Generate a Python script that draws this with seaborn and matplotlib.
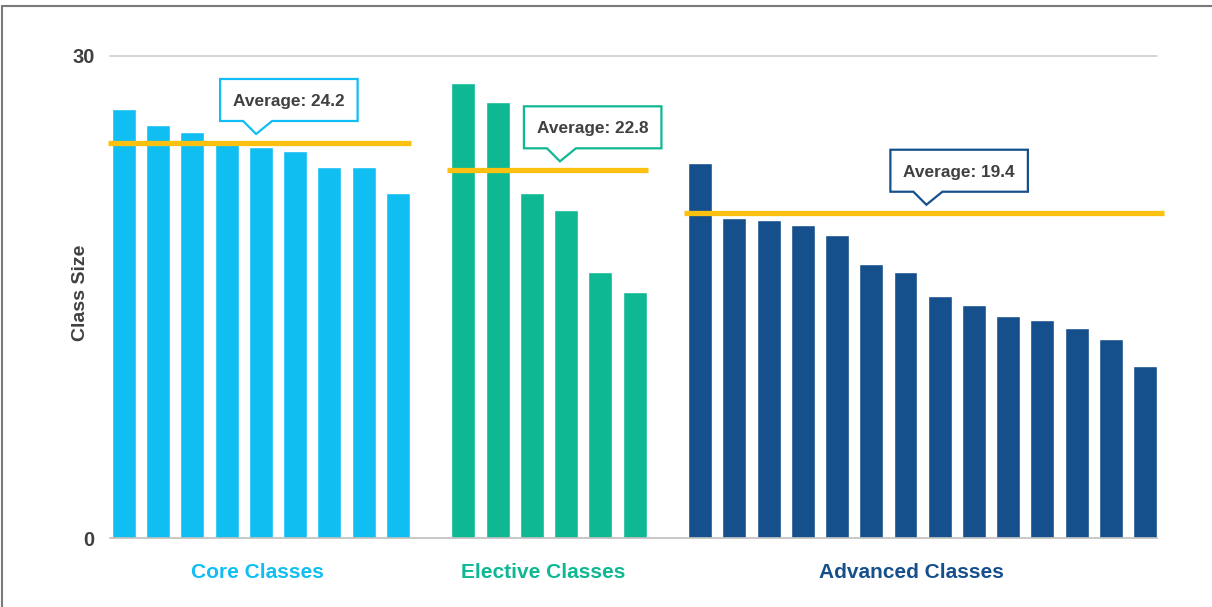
import numpy as np
import pandas as pd
import matplotlib
matplotlib.use("Agg")
import matplotlib.pyplot as plt
import matplotlib.transforms as mtransforms
from matplotlib.patches import Polygon
from matplotlib.lines import Line2D
import seaborn as sns

# ---------------- data ----------------
groups = ["Core Classes", "Elective Classes", "Advanced Classes"]
core_sizes = [26.7, 25.7, 25.25, 24.5, 24.3, 24.05, 23.1, 23.1, 21.45]
elective_sizes = [28.3, 27.1, 21.45, 20.4, 16.55, 15.3]
advanced_sizes = [23.3, 19.9, 19.8, 19.45, 18.85, 17.05, 16.55, 15.05,
                  14.5, 13.8, 13.55, 13.05, 12.4, 10.7]
avg_line_values = [24.6, 22.9, 20.2]
avg_labels = ["Average: 24.2", "Average: 22.8", "Average: 19.4"]
y_ticks = [0, 30]
y_label = "Class Size"

# ---------------- style ----------------
colors = {"Core Classes": "#10BEF2", "Elective Classes": "#0DB893",
          "Advanced Classes": "#15508C"}
avg_color = "#FCC010"
text_color = "#404040"
group_gap = 1.92
callout_tip_rel = [3.86, 2.82, 6.61]
line_pad_left = 0.48
line_pad_right = [0.40, 0.40, 0.54]
label_shift = [-0.10, -0.18, -0.33]

sns.set_theme(style="white")
plt.rcParams["font.family"] = ["Liberation Sans", "DejaVu Sans"]

# positions
all_sizes = [core_sizes, elective_sizes, advanced_sizes]
rows = []
starts = []
start = 0.0
for g, sizes in zip(groups, all_sizes):
    starts.append(start)
    for i, v in enumerate(sizes):
        rows.append({"pos": start + i, "size": v, "group": g})
    start = start + len(sizes) - 1 + group_gap
df = pd.DataFrame(rows)

fig = plt.figure(figsize=(12.12, 6.07), dpi=100)
ax = fig.add_axes([110 / 1212, 1 - 538 / 607, 1047 / 1212, 482.3 / 607])

sns.barplot(data=df, x="pos", y="size", hue="group", palette=colors,
            native_scale=True, width=0.7, dodge=False, errorbar=None,
            legend=False, saturation=1, ax=ax)

ax.set_xlim(-0.41, df["pos"].max() + 0.35)
ax.set_ylim(0, 30)
ax.set_xticks([])
ax.set_xlabel("")
ax.set_yticks(y_ticks)
ax.set_yticklabels([str(t) for t in y_ticks], fontsize=14.5,
                   fontweight="bold", color=text_color)
ax.tick_params(axis="y", length=0, pad=11)
for s in ["top", "right", "left"]:
    ax.spines[s].set_visible(False)
ax.spines["bottom"].set_color("#BFBFBF")
ax.spines["bottom"].set_linewidth(1.2)
ax.axhline(30, color="#D0D0D0", lw=1.2, zorder=0, clip_on=False)

ax.set_ylabel(y_label, fontsize=14, fontweight="bold", color=text_color)
ax.yaxis.label.set_va("center")
ax.yaxis.set_label_coords(-0.0277, 0.508)

# average lines, callouts, group labels
for k, (g, sizes) in enumerate(zip(groups, all_sizes)):
    first = starts[k]
    last = first + len(sizes) - 1
    yv = avg_line_values[k]
    ax.hlines(yv, first - line_pad_left, last + line_pad_right[k],
              color=avg_color, lw=3.8, zorder=5, clip_on=False)

    tip_x = first + callout_tip_rel[k]
    tip_y = yv + 0.53
    trans = fig.dpi_scale_trans + mtransforms.ScaledTranslation(
        tip_x, tip_y, ax.transData)
    px = np.array([[0, 0], [16, 13], [101.5, 13], [101.5, 55],
                   [-36, 55], [-36, 13], [-13, 13]]) / 100.0
    poly = Polygon(px, closed=True, facecolor="white", edgecolor=colors[g],
                   lw=1.6, transform=trans, zorder=6, clip_on=False,
                   joinstyle="miter")
    ax.add_patch(poly)
    ax.text(32.8 / 100, 28 / 100, avg_labels[k], transform=trans,
            ha="center", va="baseline", fontsize=12.4, fontweight="bold",
            color=text_color, zorder=7, clip_on=False)

    mid = (first + last) / 2 + label_shift[k]
    ax.text(mid, -2.51, g, ha="center", va="baseline", fontsize=15,
            fontweight="bold", color=colors[g], clip_on=False)

# outer frame (top and left edges visible)
fig.add_artist(Line2D([2.5 / 1212, 1.0], [1 - 5.5 / 607, 1 - 5.5 / 607],
                      transform=fig.transFigure, color="#7A7A7A", lw=1.5))
fig.add_artist(Line2D([2.5 / 1212, 2.5 / 1212], [0.0, 1 - 5.5 / 607],
                      transform=fig.transFigure, color="#7A7A7A", lw=1.5))

fig.savefig("out.png", dpi=100)
